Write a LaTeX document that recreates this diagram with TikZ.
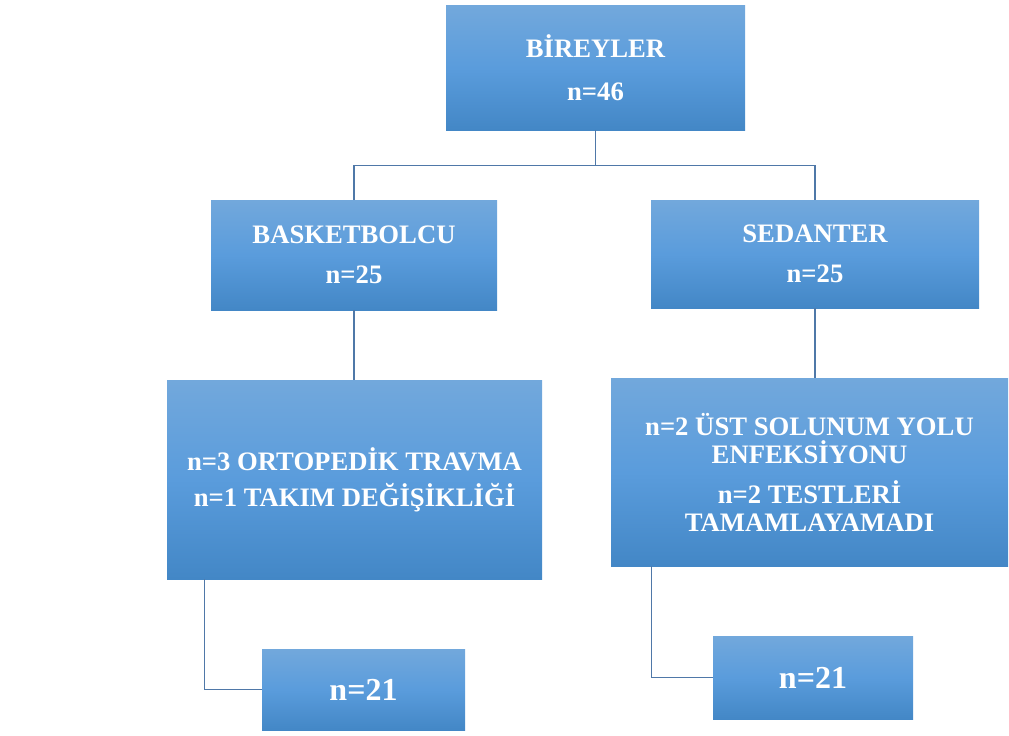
\documentclass[tikz,border=0pt]{standalone}
\usepackage{fontspec}
\setmainfont{Liberation Serif}
\usepackage{tikz}
\usetikzlibrary{positioning}
\definecolor{boxtop}{HTML}{72A8DC}
\definecolor{boxmid}{HTML}{5A9CDC}
\definecolor{boxbot}{HTML}{4387C6}
\definecolor{linkblue}{HTML}{4F78A8}

\begin{document}
\begin{tikzpicture}[
  x=0.75pt, y=-0.75pt,
  grp/.style={top color=boxtop, bottom color=boxbot, middle color=boxmid, text=white, inner sep=0, align=center,
    font=\bfseries\fontsize{20}{24}\selectfont},
  big/.style={grp, font=\bfseries\fontsize{24}{28}\selectfont},
  sz/.style 2 args={minimum width=#1*0.75pt, minimum height=#2*0.75pt},
  link/.style={draw=linkblue, line width=0.8pt}
]
\useasboundingbox (0,0) rectangle (1009,735);

% top level
\node[grp, sz={299}{124}] (root) at (595.5,68) {BİREYLER\\[8pt]n=46};

% groups
\node[grp, sz={286}{110}] (bask) at (354,255) {BASKETBOLCU\\[6pt]n=25};
\node[grp, sz={328}{108}] (sed) at (815,254) {SEDANTER\\[6pt]n=25};

% exclusions
\node[grp, sz={375}{199}] (lmid) at (354.5,479.5)
  {\raisebox{-14pt}{\parbox{270pt}{\centering n=3 ORTOPEDİK TRAVMA\\[3pt]n=1 TAKIM DEĞİŞİKLİĞİ}}};
\node[grp, sz={397}{188}] (rmid) at (809.5,472)
  {n=2 ÜST SOLUNUM YOLU\\[-3pt]ENFEKSİYONU\\[6pt]n=2 TESTLERİ\\[-3pt]TAMAMLAYAMADI};

% final samples
\node[big, sz={203}{81}] (lres) at (363.5,689.5) {n=21};
\node[big, sz={200}{83}] (rres) at (813,677.5) {n=21};

% connectors
\draw[link] (root.south) -- ++(0,35) -| (bask.north);
\draw[link] (root.south) -- ++(0,35) -| (sed.north);
\draw[link] (bask.south) -- (bask.south |- lmid.north);
\draw[link] (sed.south) -- (sed.south |- rmid.north);
\draw[link] ([xshift=38*0.75pt]lmid.south west) |- (lres.west);
\draw[link] ([xshift=41*0.75pt]rmid.south west) |- (rres.west);
\end{tikzpicture}
\end{document}
